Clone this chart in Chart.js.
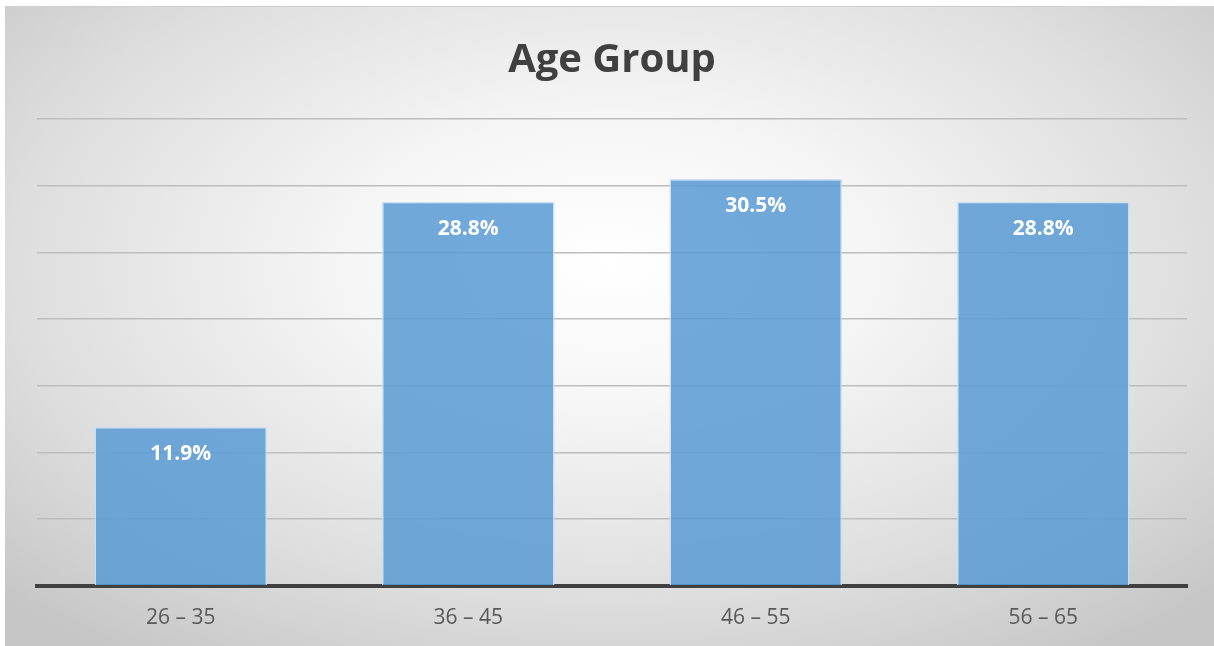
<!DOCTYPE html>
<html>
<head>
<meta charset="utf-8">
<script src="https://cdn.jsdelivr.net/npm/chart.js@4"></script>
<style>
  html, body { margin: 0; padding: 0; background: #fff; overflow: hidden; }
  #wrap {
    position: absolute; left: 5px; top: 6px; width: 1209px; height: 640px;
    border-top: 1px solid #cfcfcf;
    background: radial-gradient(ellipse 70% 75% at 50% 40%, #ffffff 0%, #f6f6f6 30%, #dedede 70%, #c6c6c6 100%);
  }
  canvas { display: block; }
</style>
</head>
<body>
<div id="wrap"><canvas id="chart" width="1209" height="639"></canvas></div>
<script>
// Age group shares (percent)
const categories = ['26 – 35', '36 – 45', '46 – 55', '56 – 65'];
const shares = [11.9, 28.8, 30.5, 28.8];
const shareLabels = ['11.9%', '28.8%', '30.5%', '28.8%'];

// white value labels just under the top of each bar
const barLabels = {
  id: 'barLabels',
  afterDatasetsDraw(chart) {
    const ctx = chart.ctx;
    const meta = chart.getDatasetMeta(0);
    ctx.save();
    ctx.fillStyle = '#ffffff';
    ctx.font = 'bold 21px "Open Sans"';
    ctx.textAlign = 'center';
    ctx.textBaseline = 'middle';
    meta.data.forEach((bar, i) => {
      ctx.fillText(shareLabels[i], bar.x, bar.y + 27);
    });
    ctx.restore();
  }
};

new Chart(document.getElementById('chart').getContext('2d'), {
  type: 'bar',
  data: {
    labels: categories,
    datasets: [{
      data: shares,
      backgroundColor: 'rgba(91,155,213,0.86)',
      borderColor: 'rgba(200,222,242,0.9)',
      borderWidth: 1.5,
      categoryPercentage: 1,
      barPercentage: 0.6
    }]
  },
  options: {
    responsive: false,
    animation: false,
    layout: { padding: { left: 32, right: 27, bottom: 3 } },
    plugins: {
      legend: { display: false },
      tooltip: { enabled: false },
      title: {
        display: true,
        text: 'Age Group',
        color: '#404040',
        font: { family: 'Open Sans', size: 40, weight: 'bold' },
        padding: { top: 30, bottom: 34 }
      }
    },
    scales: {
      x: {
        grid: { display: false },
        border: { display: true, color: '#404040', width: 4 },
        ticks: { color: '#595959', font: { family: 'Open Sans', size: 21 }, padding: 12 }
      },
      y: {
        min: 0,
        max: 35,
        ticks: { display: false, stepSize: 5 },
        grid: { color: '#bdbdbd', lineWidth: 1.5, drawTicks: false },
        border: { display: false }
      }
    }
  },
  plugins: [barLabels]
});
</script>
</body>
</html>
